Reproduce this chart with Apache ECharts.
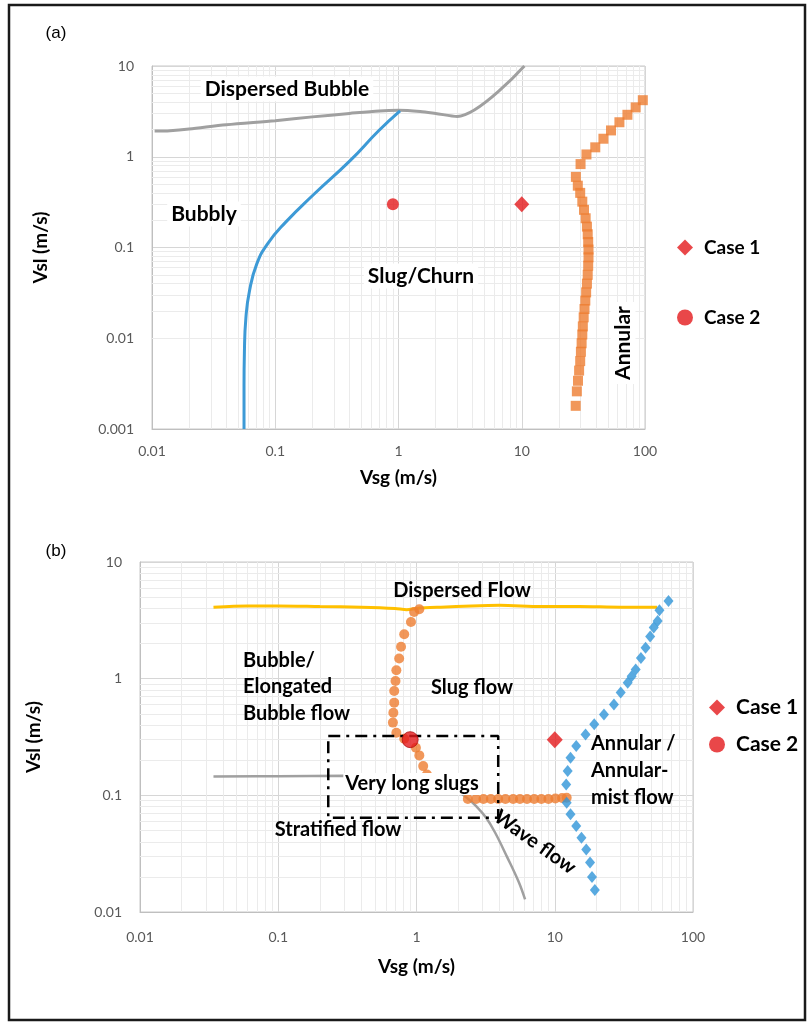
<!DOCTYPE html>
<html>
<head>
<meta charset="utf-8">
<script src="https://cdn.jsdelivr.net/npm/echarts@6/dist/echarts.min.js"></script>
<style>
html,body{margin:0;padding:0;background:#fff;}
#c{width:808px;height:1023px;}
</style>
</head>
<body>
<div id="c"></div>
<script>
// ---------- Data: chart (a) ----------
const aGrayX = [0.0105, 0.014, 0.02, 0.04, 0.1, 0.2, 0.4, 0.7, 1.0, 1.5, 2.0, 3.0, 10.5];
const aGrayY = [1.92, 1.94, 2.02, 2.25, 2.5, 2.75, 3.0, 3.2, 3.25, 3.15, 3.0, 2.78, 10];
const aBlueX = [0.0558, 0.0558, 0.0562, 0.0578, 0.0618, 0.0707, 0.0863, 0.1205, 0.206, 0.403, 0.687, 1.03];
const aBlueY = [0.001, 0.003, 0.007, 0.0169, 0.0333, 0.0656, 0.109, 0.188, 0.386, 0.9, 1.92, 3.2];
const aOrangeX = [96, 84, 72, 62, 53, 46, 39.5, 33.5, 30, 27.5, 28.5, 29.8, 31, 32, 33, 33.8, 34.3, 34.6, 34.8, 34.8, 34.6, 34.3, 33.8, 33.3, 32.8, 32.3, 31.8, 31.3, 31, 30.6, 30.2, 29.8, 29.2, 28.6, 28, 27.4];
const aOrangeY = [4.2, 3.5, 2.9, 2.4, 1.95, 1.58, 1.27, 1.06, 0.83, 0.6, 0.48, 0.4, 0.32, 0.26, 0.21, 0.17, 0.14, 0.115, 0.095, 0.078, 0.063, 0.05, 0.04, 0.032, 0.026, 0.021, 0.017, 0.0135, 0.011, 0.0088, 0.0071, 0.0056, 0.0044, 0.0034, 0.0026, 0.0018];
const case1 = [10, 0.3];
const case2 = [0.9, 0.3];

// ---------- Data: chart (b) ----------
const bYellowX = [0.034, 0.06, 0.1, 0.2, 0.4, 0.7, 0.85, 1.0, 1.5, 2.5, 4, 8, 15, 30, 55];
const bYellowY = [4.1, 4.2, 4.2, 4.15, 4.1, 4.0, 3.9, 4.0, 4.1, 4.2, 4.25, 4.15, 4.15, 4.1, 4.1];
const bGrayX = [0.034, 0.1, 0.3, 0.6, 1.0, 1.2, 1.5, 1.9, 2.3, 2.7, 3.2, 3.7, 4.5, 5.5, 6.1];
const bGrayY = [0.145, 0.146, 0.147, 0.146, 0.144, 0.141, 0.132, 0.113, 0.096, 0.081, 0.064, 0.048, 0.030, 0.018, 0.0128];
const bOrangeX = [1.048, 0.961, 0.912, 0.815, 0.773, 0.749, 0.715, 0.705, 0.69, 0.69, 0.68, 0.675, 0.715, 0.815, 0.99, 1.048, 1.118, 1.19,
                  2.35, 2.7, 3.05, 3.45, 3.9, 4.4, 5.0, 5.6, 6.3, 7.1, 8.0, 9.0, 10.1, 11.3, 12.2];
const bOrangeY = [3.93, 3.73, 3.06, 2.4, 1.88, 1.49, 1.18, 0.955, 0.784, 0.623, 0.51, 0.42, 0.344, 0.305, 0.256, 0.22, 0.178, 0.151,
                  0.093, 0.093, 0.093, 0.093, 0.093, 0.093, 0.093, 0.093, 0.093, 0.093, 0.093, 0.093, 0.094, 0.095, 0.0955];
const bBlueX = [66.5, 57.2, 55.5, 52, 49, 45.4, 42, 38.5, 36, 33.7, 30, 26.8, 22.7, 19.3, 16.7, 14.3, 13, 12.4, 12.1, 12.2, 13, 14.3, 15.6, 16.9, 18, 18.6, 19.5];
const bBlueY = [4.64, 3.85, 3.12, 2.74, 2.3, 1.84, 1.5, 1.2, 1.05, 0.924, 0.76, 0.6, 0.494, 0.406, 0.333, 0.265, 0.21, 0.162, 0.124, 0.0865, 0.0687, 0.0546, 0.0434, 0.0344, 0.0265, 0.02, 0.0154];
const rectX = [0.23, 3.9];
const rectY = [0.0644, 0.323];

// tick helpers
const minorMantissa = [2, 3, 4, 5, 6, 7, 8, 9];
const aXDecades = [-2, -1, 0, 1];
const aYDecades = [-3, -2, -1, 0];
const bXDecades = [-2, -1, 0, 1];
const bYDecades = [-2, -1, 0];

function zip(xs, ys) { return xs.map((x, i) => [x, ys[i]]); }
function minors(decs) {
  const out = [];
  decs.forEach(e => minorMantissa.forEach(m => out.push(parseFloat((m * Math.pow(10, e)).toPrecision(6)))));
  return out;
}
const fmt = v => String(parseFloat(Number(v).toPrecision(6)));

const FONT = 'Lato, "Open Sans", sans-serif';
const tickLabel = { color: '#595959', fontSize: 14, fontFamily: FONT };
const orange = '#ed7d31', blue = '#3d9ad6', blueB = '#2f95d8', gray = '#a0a0a0', yellow = '#ffc000', red = '#e3191c';

function logAxis(gridIndex, min, max, name, nameGap, margin) {
  return {
    type: 'log', logBase: 10, gridIndex, min, max,
    name, nameLocation: 'middle', nameGap,
    nameTextStyle: { fontSize: 19, fontWeight: 'bold', color: '#000', fontFamily: FONT },
    axisLine: { show: true, lineStyle: { color: '#bfbfbf', width: 1 } },
    axisTick: { show: false },
    axisLabel: Object.assign({ margin, formatter: fmt }, tickLabel),
    splitLine: { show: true, lineStyle: { color: '#d6d6d6', width: 1 } }
  };
}

function minorSeries(xi, yi, xs, ys) {
  return {
    type: 'line', xAxisIndex: xi, yAxisIndex: yi, data: [], z: 1, silent: true,
    markLine: {
      z: 1, silent: true, symbol: ['none', 'none'], label: { show: false }, animation: false,
      lineStyle: { color: '#ebebeb', width: 1, type: 'solid' },
      emphasis: { disabled: true },
      data: xs.map(v => ({ xAxis: v })).concat(ys.map(v => ({ yAxis: v })))
    }
  };
}

function txt(x, y, text, opts) {
  return Object.assign({
    type: 'text', x, y, z: 100,
    style: Object.assign({
      text, font: 'bold 20px ' + FONT, fill: '#000',
      align: 'center', verticalAlign: 'middle'
    }, (opts && opts.style) || {})
  }, (opts && opts.el) || {});
}
const A = 'bold 21px ' + FONT;
const B = 'bold 20px ' + FONT;

const chart = echarts.init(document.getElementById('c'), null, { renderer: 'canvas' });
chart.setOption({
  backgroundColor: '#fff',
  animation: false,
  grid: [
    { left: 152, top: 66, width: 493, height: 363, show: true, borderColor: '#c8c8c8', borderWidth: 1 },
    { left: 140, top: 562, width: 553, height: 350, show: true, borderColor: '#c8c8c8', borderWidth: 1 }
  ],
  xAxis: [
    logAxis(0, 0.01, 100, 'Vsg (m/s)', 39, 15),
    logAxis(1, 0.01, 100, 'Vsg (m/s)', 45, 18)
  ],
  yAxis: [
    logAxis(0, 0.001, 10, 'Vsl (m/s)', 102, 18),
    logAxis(1, 0.01, 10, 'Vsl (m/s)', 97, 18)
  ],
  legend: [
    { data: ['Case 1', 'Case 2'], orient: 'vertical', left: 672, top: 233, itemGap: 51,
      itemWidth: 16, itemHeight: 16,
      textStyle: { fontSize: 19, fontWeight: 'bold', color: '#000', fontFamily: FONT, padding: [0, 0, 0, 6] } },
    { data: ['Case 1', 'Case 2'], orient: 'vertical', left: 704, top: 692, itemGap: 16,
      itemWidth: 16, itemHeight: 16,
      textStyle: { fontSize: 21, fontWeight: 'bold', color: '#000', fontFamily: FONT, padding: [0, 0, 0, 6] } }
  ],
  series: [
    minorSeries(0, 0, minors(aXDecades), minors(aYDecades)),
    minorSeries(1, 1, minors(bXDecades), minors(bYDecades)),
    // chart (a)
    { name: 'Transition A', type: 'line', xAxisIndex: 0, yAxisIndex: 0, data: zip(aGrayX, aGrayY),
      smooth: 0.3, showSymbol: false, lineStyle: { color: gray, width: 3 }, z: 3 },
    { name: 'Bubbly boundary', type: 'line', xAxisIndex: 0, yAxisIndex: 0, data: zip(aBlueX, aBlueY),
      smooth: 0.5, showSymbol: false, lineStyle: { color: blue, width: 3 }, z: 3 },
    { name: 'Annular boundary', type: 'scatter', xAxisIndex: 0, yAxisIndex: 0, data: zip(aOrangeX, aOrangeY),
      symbol: 'rect', symbolSize: 10, itemStyle: { color: orange }, z: 4 },
    { name: 'Case 1', type: 'scatter', xAxisIndex: 0, yAxisIndex: 0, data: [case1],
      symbol: 'diamond', symbolSize: [15, 16], itemStyle: { color: red }, z: 5 },
    { name: 'Case 2', type: 'scatter', xAxisIndex: 0, yAxisIndex: 0, data: [case2],
      symbol: 'circle', symbolSize: 12, itemStyle: { color: red }, z: 5 },
    // chart (b)
    { name: 'Dispersed', type: 'line', xAxisIndex: 1, yAxisIndex: 1, data: zip(bYellowX, bYellowY),
      smooth: 0.3, showSymbol: false, lineStyle: { color: yellow, width: 3 }, z: 3 },
    { name: 'Stratified', type: 'line', xAxisIndex: 1, yAxisIndex: 1, data: zip(bGrayX, bGrayY),
      smooth: 0.4, showSymbol: false, lineStyle: { color: gray, width: 2.5 }, z: 3 },
    { name: 'Rect', type: 'line', xAxisIndex: 1, yAxisIndex: 1,
      data: [[rectX[0], rectY[1]], [rectX[1], rectY[1]], [rectX[1], rectY[0]], [rectX[0], rectY[0]], [rectX[0], rectY[1]]],
      showSymbol: false, lineStyle: { color: '#000', width: 2.5, type: [12, 6, 3, 6] }, z: 6 },
    { name: 'Slug boundary', type: 'scatter', xAxisIndex: 1, yAxisIndex: 1, data: zip(bOrangeX, bOrangeY),
      symbol: 'circle', symbolSize: 10, itemStyle: { color: orange }, z: 4 },
    { name: 'Annular boundary b', type: 'scatter', xAxisIndex: 1, yAxisIndex: 1, data: zip(bBlueX, bBlueY),
      symbol: 'diamond', symbolSize: [10, 12], itemStyle: { color: blueB }, z: 4 },
    { name: 'Case 1', type: 'scatter', xAxisIndex: 1, yAxisIndex: 1, data: [case1],
      symbol: 'diamond', symbolSize: [16, 17], itemStyle: { color: red }, z: 7 },
    { name: 'Case 2', type: 'scatter', xAxisIndex: 1, yAxisIndex: 1, data: [case2],
      symbol: 'circle', symbolSize: 16, itemStyle: { color: red, borderColor: '#b01010', borderWidth: 1 }, z: 7 }
  ],
  graphic: { elements: [
    { type: 'rect', z: 100, shape: { x: 9, y: 5, width: 796, height: 1015 },
      style: { fill: 'none', stroke: '#1a1a1a', lineWidth: 2.5 } },
    txt(56, 33, '(a)', { style: { font: '17px "Liberation Sans", Arial, sans-serif' } }),
    txt(56, 551, '(b)', { style: { font: '17px "Liberation Sans", Arial, sans-serif' } }),
    // chart (a) labels
    txt(287, 89, 'Dispersed Bubble', { style: { font: A, backgroundColor: '#fff', padding: [2, 4] } }),
    txt(204, 214, 'Bubbly', { style: { font: A, backgroundColor: '#fff', padding: [2, 4] } }),
    txt(421, 276, 'Slug/Churn', { style: { font: A, backgroundColor: '#fff', padding: [2, 4] } }),
    txt(623, 343, 'Annular', { style: { font: A, backgroundColor: '#fff', padding: [2, 4] }, el: { rotation: Math.PI / 2 } }),
    // chart (b) labels
    txt(462, 591, 'Dispersed Flow', { style: { font: B } }),
    txt(243, 661, 'Bubble/', { style: { font: B, align: 'left' } }),
    txt(243, 687, 'Elongated', { style: { font: B, align: 'left' } }),
    txt(243, 714, 'Bubble flow', { style: { font: B, align: 'left' } }),
    txt(472, 688, 'Slug flow', { style: { font: B } }),
    txt(591, 744, 'Annular /', { style: { font: B, align: 'left' } }),
    txt(591, 771, 'Annular-', { style: { font: B, align: 'left' } }),
    txt(591, 798, 'mist flow', { style: { font: B, align: 'left' } }),
    txt(412, 784, 'Very long slugs', { style: { font: B, backgroundColor: '#fff', padding: [1, 2] } }),
    txt(338, 830, 'Stratified flow', { style: { font: B } }),
    txt(535, 842, 'Wave flow', { style: { font: B }, el: { rotation: -0.62 } })
  ] }
});
</script>
</body>
</html>
